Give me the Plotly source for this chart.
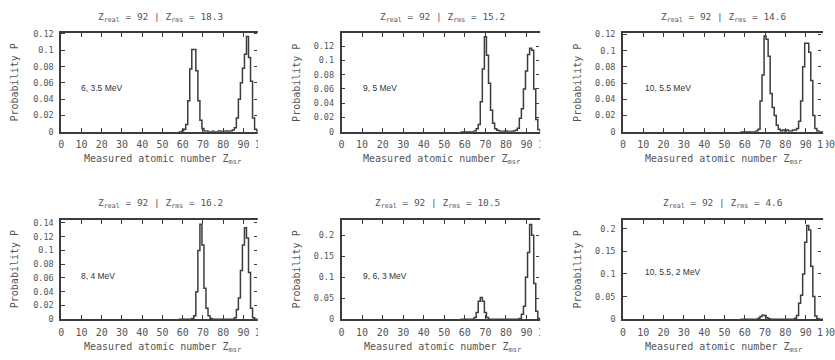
import plotly.graph_objects as go

# ---------------- data ----------------
z_bins = list(range(58, 100))  # measured atomic number Z (bins 58..99); zero elsewhere

p_6_35 = [0, 0, 0.001, 0.003, 0.009, 0.038, 0.077, 0.101, 0.101, 0.075,
          0.038, 0.014, 0.004, 0.001, 0.001, 0, 0, 0.0005, 0, 0,
          0.001, 0.0005, 0, 0.0005, 0.001, 0.0005, 0.001, 0.002, 0.005, 0.017,
          0.04, 0.06, 0.078, 0.095, 0.117, 0.091, 0.062, 0.017, 0.003, 0.001,
          0, 0]
p_9_5 = [0, 0, 0, 0, 0, 0, 0, 0.001, 0.004, 0.01,
         0.042, 0.088, 0.133, 0.107, 0.068, 0.03, 0.012, 0.004, 0.002, 0.001,
         0, 0.0005, 0.001, 0.0005, 0, 0.0005, 0.001, 0.002, 0.005, 0.019,
         0.032, 0.06, 0.085, 0.108, 0.117, 0.114, 0.06, 0.017, 0.003, 0.001,
         0, 0]
p_10_55 = [0, 0, 0, 0, 0, 0, 0, 0, 0.001, 0.003,
           0.038, 0.07, 0.118, 0.114, 0.093, 0.047, 0.03, 0.02, 0.008, 0.003,
           0.001, 0.002, 0.001, 0.002, 0.001, 0.001, 0.002, 0.002, 0.004, 0.013,
           0.038, 0.08, 0.109, 0.109, 0.098, 0.063, 0.02, 0.004, 0.001, 0,
           0, 0]
p_8_4 = [0, 0, 0, 0, 0, 0, 0, 0.001, 0.005, 0.04,
         0.1, 0.138, 0.108, 0.045, 0.016, 0.005, 0.001, 0, 0, 0,
         0, 0, 0, 0, 0, 0, 0, 0, 0.002, 0.014,
         0.031, 0.071, 0.108, 0.133, 0.118, 0.068, 0.016, 0.002, 0, 0,
         0, 0]
p_9_6_3 = [0, 0, 0, 0, 0, 0, 0, 0.004, 0.016, 0.043,
           0.052, 0.043, 0.016, 0.004, 0, 0, 0, 0, 0, 0,
           0, 0, 0, 0, 0, 0, 0, 0, 0, 0.002,
           0.012, 0.031, 0.1, 0.159, 0.226, 0.2, 0.085, 0.019, 0.002, 0,
           0, 0]
p_10_55_2 = [0, 0, 0, 0, 0, 0, 0, 0, 0, 0.002,
             0.006, 0.009, 0.008, 0.003, 0.001, 0, 0, 0, 0, 0,
             0, 0, 0, 0, 0, 0, 0, 0.002, 0.008, 0.035,
             0.053, 0.1, 0.17, 0.207, 0.197, 0.117, 0.05, 0.007, 0.001, 0,
             0, 0]

series = [p_6_35, p_9_5, p_10_55, p_8_4, p_9_6_3, p_10_55_2]
labels = ["6, 3.5 MeV", "9, 5 MeV", "10, 5.5 MeV", "8, 4 MeV", "9, 6, 3 MeV", "10, 5.5, 2 MeV"]
z_real = [92, 92, 92, 92, 92, 92]
z_rms = ["18.3", "15.2", "14.6", "16.2", "10.5", "4.6"]
x_ticks = list(range(0, 101, 10))

# ---------------- layout (pixel geometry) ----------------
W, H = 835, 360
def px(x):
    return x / W
def py(y):
    return 1 - y / H

col_dom = [(59, 264.5), (343.5, 552), (629, 835)]
col_clip = [258.5, 545, 832]
col_dots = [258, 544, 829.5]
row_dom = [(29.5, 131), (222, 323.3)]
y_max = [0.1215, 0.1386, 0.122, 0.1437, 0.2356, 0.218]
y_dtick = [0.02, 0.02, 0.02, 0.02, 0.05, 0.05]
title_pos = [(160.3, 14), (446, 14), (731.3, 14), (159.7, 205), (440.8, 205), (730, 205)]
xtitle_pos = [(161.7, 159), (445, 159), (731, 159), (162, 352.7), (446, 352.7), (731, 352.7)]
ytitle_x = [11.7, 298.2, 583.3]
ytitle_y = [81, 272.5]
text_pos = [(77.3, 86), (363.3, 86), (649.3, 86), (77.3, 279.3), (363.3, 279.3), (649.3, 275)]

MONO = "DejaVu Sans Mono"
TXT = "#555555"
LINE = "#3c3c3c"

fig = go.Figure()
layout = dict(
    width=W, height=H, margin=dict(l=0, r=0, t=0, b=0),
    paper_bgcolor="white", plot_bgcolor="white", showlegend=False,
    annotations=[], shapes=[],
)

for i in range(6):
    r, c = divmod(i, 3)
    n = i + 1
    xa = "xaxis" if n == 1 else f"xaxis{n}"
    ya = "yaxis" if n == 1 else f"yaxis{n}"
    yo = f"yaxis{n + 6}"
    xr = "x" if n == 1 else f"x{n}"
    yr = "y" if n == 1 else f"y{n}"

    fig.add_trace(go.Scatter(x=z_bins, y=series[i], mode="lines", line_shape="hvh",
                             line=dict(color=LINE, width=1.5), xaxis=xr, yaxis=yr,
                             hoverinfo="skip"))
    # invisible twin trace carrying the right-hand tick marks
    fig.add_trace(go.Scatter(x=z_bins, y=series[i], mode="lines",
                             line=dict(color="rgba(0,0,0,0)", width=0), xaxis=xr,
                             yaxis=f"y{n + 6}", hoverinfo="skip"))

    x0, x1 = col_dom[c]
    t0, t1 = row_dom[r]
    layout[xa] = dict(domain=[px(x0), min(px(x1), 1.0)], range=[0, 100], anchor=yr,
                      tickvals=x_ticks, ticks="inside", ticklen=4, tickwidth=1, tickcolor=LINE,
                      showline=True, linecolor=LINE, linewidth=1.5, mirror="ticks",
                      showgrid=False, zeroline=False, ticklabelstandoff=3,
                      ticklabeloverflow="allow",
                      tickfont=dict(family=MONO, size=10, color=TXT))
    layout[ya] = dict(domain=[py(t1), py(t0)], range=[0, y_max[i]], anchor=xr,
                      dtick=y_dtick[i], tick0=0, ticks="inside", ticklen=4, tickwidth=1,
                      tickcolor=LINE, showline=True, linecolor=LINE, linewidth=1.5,
                      mirror=False, showgrid=False, zeroline=False, ticklabelstandoff=4,
                      tickfont=dict(family=MONO, size=8.5, color=TXT))
    layout[yo] = dict(overlaying=yr, anchor="free", position=px(col_dots[c]), side="right",
                      range=[0, y_max[i]], dtick=y_dtick[i], tick0=0, ticks="inside",
                      ticklen=3, tickwidth=1, tickcolor=LINE, showline=False,
                      showticklabels=False, showgrid=False, zeroline=False)

    # white strip that crops each panel on the right, as in the original image
    layout["shapes"].append(dict(type="rect", xref="paper", yref="paper", layer="above",
                                 x0=px(col_clip[c]), x1=min(px(col_clip[c] + 26), 1.0),
                                 y0=py(t1 + 20), y1=py(t0 - 4),
                                 fillcolor="white", line=dict(width=0)))

    tx, ty = title_pos[i]
    layout["annotations"].append(dict(
        x=px(tx), y=py(ty), xref="paper", yref="paper", showarrow=False,
        xanchor="center", yanchor="middle",
        text=f"Z<sub>real</sub> = {z_real[i]} | Z<sub>rms</sub> = {z_rms[i]}",
        font=dict(family=MONO, size=9.5, color=TXT)))
    ax, ay = xtitle_pos[i]
    layout["annotations"].append(dict(
        x=px(ax), y=py(ay), xref="paper", yref="paper", showarrow=False,
        xanchor="center", yanchor="middle",
        text="Measured atomic number Z<sub>msr</sub>",
        font=dict(family=MONO, size=10, color=TXT)))
    layout["annotations"].append(dict(
        x=px(ytitle_x[c]), y=py(ytitle_y[r]), xref="paper", yref="paper", showarrow=False,
        xanchor="center", yanchor="middle", textangle=-90,
        text="Probability P", font=dict(family=MONO, size=10, color=TXT)))
    lx, ly = text_pos[i]
    layout["annotations"].append(dict(
        x=px(lx), y=py(ly), xref="paper", yref="paper", showarrow=False,
        xanchor="left", yanchor="middle", text=labels[i],
        font=dict(family="Liberation Sans", size=8.5, color="#333333")))

fig.update_layout(**layout)
fig.write_html("out.html", config={"displayModeBar": False},
               post_script="document.body.style.margin='0px';document.body.style.overflow='hidden';")
